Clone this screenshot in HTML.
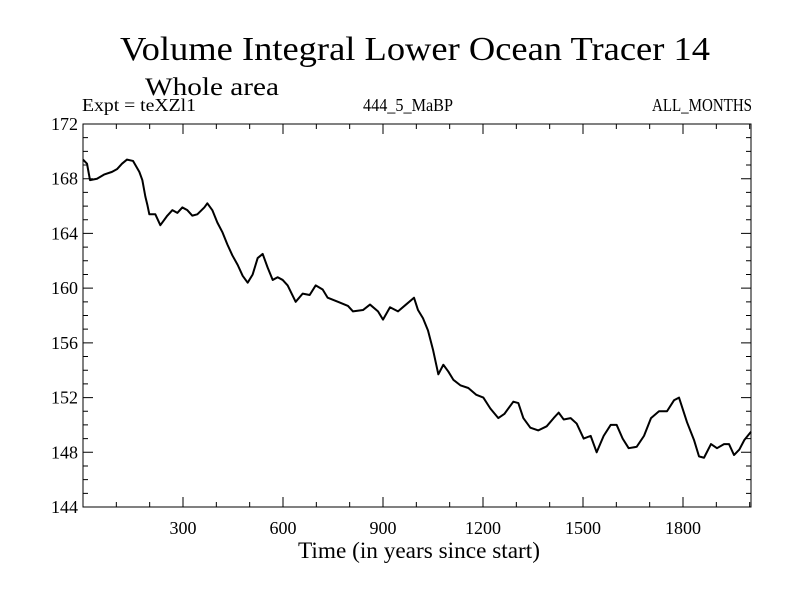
<!DOCTYPE html>
<html><head><meta charset="utf-8"><style>
body{margin:0;background:#fff}
svg text{font-family:"Liberation Serif",serif;fill:#000}
</style></head><body>
<svg id="chart" width="800" height="600">
<text x="120" y="60" font-size="34" textLength="590" lengthAdjust="spacingAndGlyphs">Volume Integral Lower Ocean Tracer 14</text>
<text x="145" y="95" font-size="25" textLength="134" lengthAdjust="spacingAndGlyphs">Whole area</text>
<text x="82" y="111" font-size="18" textLength="114" lengthAdjust="spacingAndGlyphs">Expt = teXZl1</text>
<text x="363" y="111" font-size="18" textLength="90" lengthAdjust="spacingAndGlyphs">444_5_MaBP</text>
<text x="652" y="111" font-size="18" textLength="100" lengthAdjust="spacingAndGlyphs">ALL_MONTHS</text>
<text x="298" y="558" font-size="23" textLength="242" lengthAdjust="spacingAndGlyphs">Time (in years since start)</text>
</svg>
<script>
const years=[0,12,21,42,63,87,102,117,132,150,169,178,187,193,199,217,232,253,268,283,298,313,328,343,364,373,388,403,418,433,448,464,479,494,509,524,539,554,569,584,599,614,638,659,680,698,719,734,765,795,810,840,861,885,900,921,945,969,993,1005,1020,1035,1050,1066,1081,1096,1111,1132,1156,1180,1201,1222,1246,1264,1291,1306,1321,1342,1366,1391,1412,1427,1442,1463,1481,1502,1523,1541,1562,1583,1601,1619,1637,1661,1683,1704,1728,1752,1773,1788,1812,1833,1848,1863,1884,1902,1923,1938,1953,1969,1984,2004];
const values=[169.4,169.1,167.9,168.0,168.3,168.5,168.7,169.1,169.4,169.3,168.5,167.9,166.7,166.1,165.4,165.4,164.6,165.3,165.7,165.5,165.9,165.7,165.3,165.4,165.9,166.2,165.7,164.8,164.1,163.2,162.4,161.7,160.9,160.4,161.0,162.2,162.5,161.5,160.6,160.8,160.6,160.2,159.0,159.6,159.5,160.2,159.9,159.3,159.0,158.7,158.3,158.4,158.8,158.3,157.7,158.6,158.3,158.8,159.3,158.4,157.8,156.9,155.5,153.7,154.4,153.9,153.3,152.9,152.7,152.2,152.0,151.2,150.5,150.8,151.7,151.6,150.5,149.8,149.6,149.9,150.5,150.9,150.4,150.5,150.1,149.0,149.2,148.0,149.2,150.0,150.0,149.0,148.3,148.4,149.2,150.5,151.0,151.0,151.8,152.0,150.2,148.9,147.7,147.6,148.6,148.3,148.6,148.6,147.8,148.2,148.9,149.5];
const xTicks=[300,600,900,1200,1500,1800];
const yTicks=[144,148,152,156,160,164,168,172];
const X0=83,X1=751,Y0=124,Y1=507,XMIN=0,XMAX=2004,YMIN=144,YMAX=172;
const sx=v=>X0+(v-XMIN)/(XMAX-XMIN)*(X1-X0);
const sy=v=>Y1-(v-YMIN)/(YMAX-YMIN)*(Y1-Y0);
const NS="http://www.w3.org/2000/svg";
const svg=document.getElementById('chart');
function mk(t,a){const e=document.createElementNS(NS,t);for(const k in a)e.setAttribute(k,a[k]);svg.appendChild(e);return e;}
const frame=mk('rect',{x:X0,y:Y0,width:X1-X0,height:Y1-Y0,fill:'none',stroke:'#000','stroke-width':1});


let tk='';
for(let v=100;v<XMAX;v+=100){const x=sx(v),L=v%300===0?10:5;tk+=`M${x},${Y1}v${-L}M${x},${Y0}v${L}`;}
for(let v=YMIN+1;v<YMAX;v++){const y=sy(v),L=v%4===0?10:5;tk+=`M${X0},${y}h${L}M${X1},${y}h${-L}`;}
const ticks=mk('path',{d:tk,stroke:'#000','stroke-width':1,fill:'none'});


xTicks.forEach(v=>{const t=mk('text',{x:sx(v),y:Y1+27,'font-size':18,'text-anchor':'middle'});t.textContent=v;

});
yTicks.forEach(v=>{const t=mk('text',{x:X0-5,y:sy(v)+6,'font-size':18,'text-anchor':'end'});t.textContent=v;

});
const line=mk('polyline',{points:years.map((y,i)=>sx(y)+','+sy(values[i])).join(' '),fill:'none',stroke:'#000','stroke-width':2,'stroke-linejoin':'round'});


</script>
</body></html>
